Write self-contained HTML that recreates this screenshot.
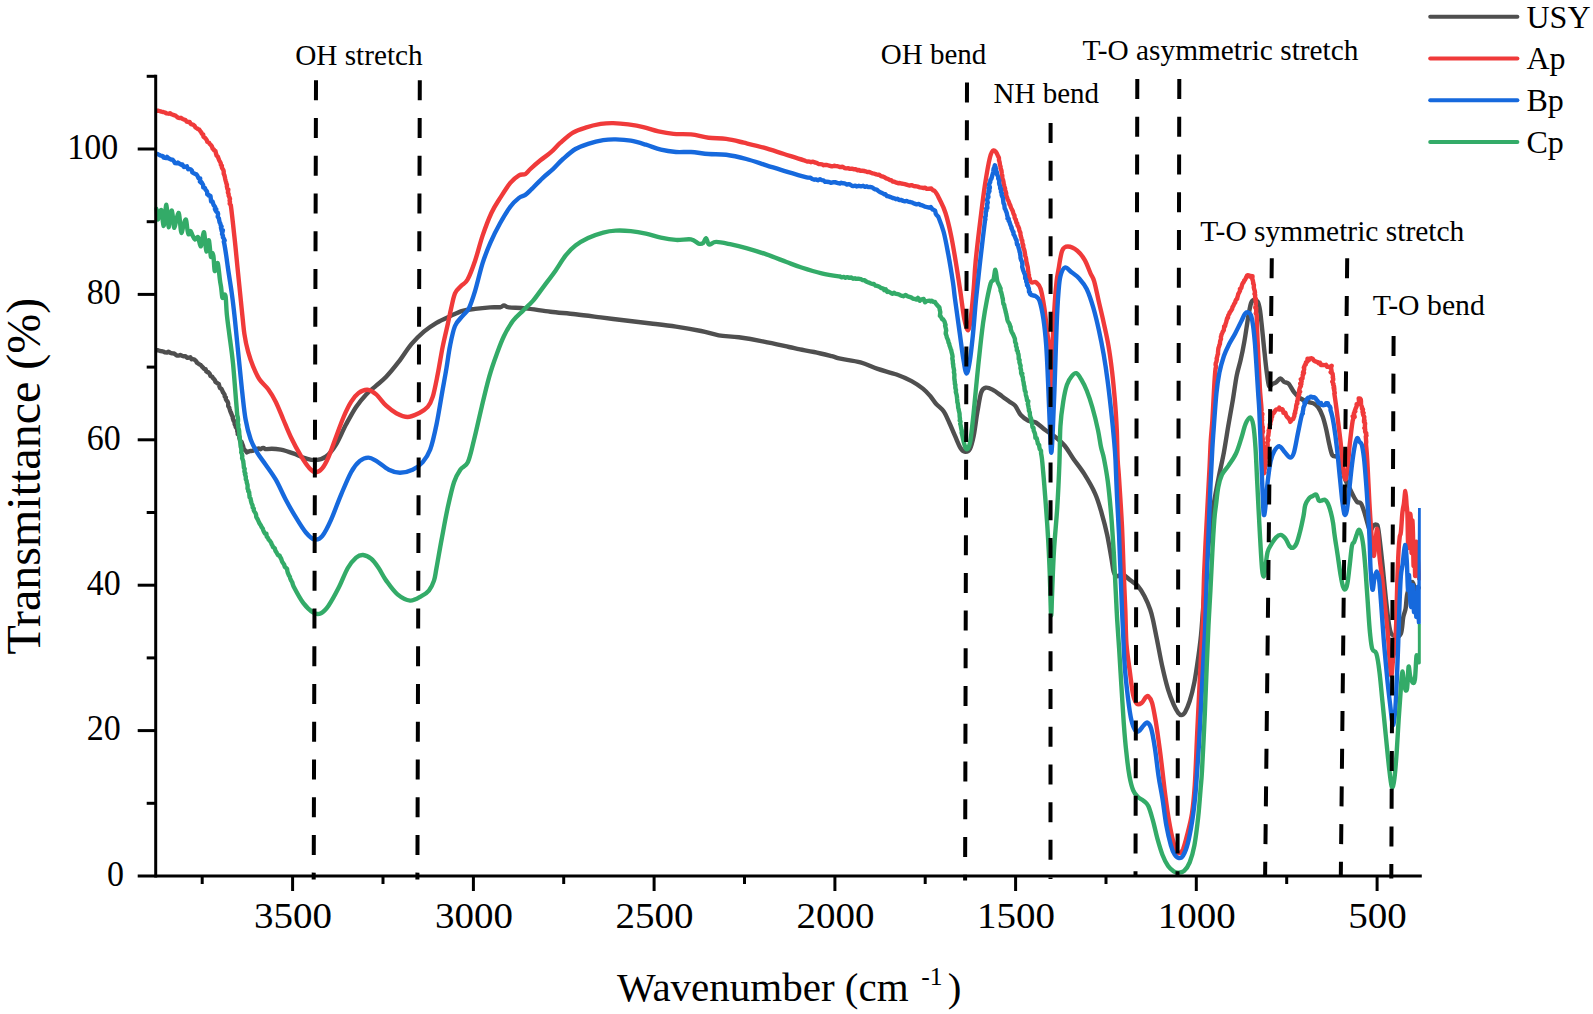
<!DOCTYPE html>
<html lang="en"><head><meta charset="utf-8"><title>FTIR spectra</title>
<style>
html,body{margin:0;padding:0;background:#fff;}
svg{display:block;}
text{font-family:"Liberation Serif",serif;fill:#000;}
</style></head><body>
<svg width="1593" height="1014" viewBox="0 0 1593 1014">
<rect width="1593" height="1014" fill="#fff"/>
<defs><clipPath id="plotclip"><rect x="154.5" y="60" width="1266.3" height="830"/></clipPath></defs>
<g fill="none" stroke="#4F4F4F" stroke-width="4.4" stroke-linejoin="round" stroke-linecap="butt" clip-path="url(#plotclip)"><path d="M155.7,349.9 L156.5,350.3 L157.6,350.2 L158.7,350.5 L160.6,351.1 L162.2,351.3 L163.6,351.6 L164.8,352.3 L167.1,352.5 L168.4,351.8 L170.3,352.8 L172.3,353.4 L173.9,353.5 L175.4,354.4 L176.8,355.5 L178.9,355.6 L180.3,355.0 L182.1,355.8 L184.0,356.3 L185.4,356.2 L187.0,357.7 L188.5,357.7 L190.3,357.3 L191.6,359.3 L192.4,359.0 L194.5,359.7 L196.1,361.1 L196.9,362.6 L198.6,363.8 L199.9,364.6 L200.7,365.0 L201.9,366.5 L202.9,367.4 L203.9,368.8 L205.6,369.1 L206.0,371.2 L207.8,372.4 L208.1,372.0 L209.8,374.0 L210.5,376.0 L212.2,376.8 L213.1,378.2 L214.3,379.4 L215.0,380.5 L215.4,382.0 L217.0,382.7 L217.2,383.3 L218.8,384.0 L219.5,386.7 L220.1,388.3 L221.5,388.8 L222.3,390.6 L223.0,392.4 L223.5,392.9 L224.6,394.6 L224.7,396.5 L225.9,397.4 L225.8,399.1 L226.7,400.6 L227.7,401.9 L228.2,403.4 L228.2,406.0 L229.3,407.7 L229.6,409.0 L230.1,410.7 L230.6,412.0 L231.3,413.5 L231.9,415.3 L232.8,416.7 L232.7,417.9 L233.3,420.0 L233.8,421.2 L234.8,421.2 L234.6,424.0 L235.5,425.5 L235.7,427.1 L236.4,427.9 L237.4,429.7 L237.2,431.1 L237.8,432.8 L237.7,434.2 L239.2,435.5 L239.4,438.2 L240.1,440.0 L240.0,440.6 L240.8,442.5 L241.7,442.1 L242.2,443.9 L243.0,445.9 L243.8,449.0 L244.6,449.9 L245.9,451.0 L246.9,452.4 L248.4,451.6 L250.1,451.0 L251.1,451.0 L252.5,450.9 L254.1,450.3 L255.3,448.8 L257.3,448.9 L258.4,448.4 L260.6,449.2 L262.2,448.2 L263.5,447.9 L265.4,449.1 L266.8,449.1 C271.2,448.3 276.4,448.8 280.8,449.6 C285.2,450.5 289.1,451.9 293.3,453.4 C297.5,454.9 302.1,457.3 305.9,458.4 C309.7,459.5 312.6,460.4 316.0,460.1 C319.4,459.8 322.7,459.2 326.0,456.6 C329.3,454.0 332.7,450.0 336.0,444.6 C339.3,439.2 342.6,430.8 346.0,424.5 C349.4,418.2 352.7,411.9 356.1,406.9 C359.5,401.9 362.9,397.9 366.2,394.4 C369.5,390.8 372.9,388.5 376.2,385.6 C379.5,382.7 382.4,380.8 386.2,376.8 C390.0,372.8 394.6,367.1 398.8,361.7 C403.0,356.2 407.2,349.1 411.4,344.1 C415.6,339.1 419.7,335.2 423.9,331.6 C428.1,328.1 432.1,325.4 436.5,322.8 C440.9,320.2 445.6,318.2 450.0,316.2 C454.4,314.2 458.4,312.1 462.6,310.9 C466.8,309.7 470.5,309.5 475.1,308.9 C479.7,308.3 486.0,307.7 490.2,307.4 C494.4,307.1 497.9,307.5 500.2,307.2 C502.5,306.9 502.5,305.4 504.0,305.4 C505.5,305.4 505.4,306.9 509.0,307.4 C512.5,307.9 518.4,307.7 525.3,308.4 C532.2,309.1 542.0,310.7 550.4,311.7 C558.8,312.7 567.1,313.2 575.5,314.2 C583.9,315.1 592.3,316.3 600.7,317.4 C609.1,318.4 617.4,319.5 625.8,320.5 C634.2,321.5 642.5,322.5 650.9,323.5 C659.3,324.5 667.6,325.4 676.0,326.7 C684.4,327.9 694.0,329.6 701.1,331.0 C708.2,332.4 712.4,334.2 718.7,335.3 C725.0,336.4 731.3,336.2 738.8,337.3 C746.3,338.4 755.5,340.0 763.9,341.6 C772.3,343.2 783.0,345.7 789.0,347.0 C795.0,348.3 795.8,348.6 800.0,349.4 C804.2,350.2 808.8,350.9 814.1,352.0 C819.4,353.1 827.3,355.1 831.7,356.2 C836.1,357.3 835.6,357.7 840.4,358.7 C845.2,359.7 854.3,360.7 860.5,362.4 C866.7,364.1 871.7,366.9 877.7,368.9 C883.7,370.9 890.9,372.5 896.5,374.5 C902.1,376.5 907.2,378.8 911.6,381.1 C916.0,383.5 919.8,386.1 922.9,388.6 C926.0,391.1 928.2,393.7 930.4,396.2 C932.6,398.7 933.8,401.2 936.0,403.7 C938.2,406.2 941.4,408.1 943.6,411.2 C945.8,414.3 947.3,418.4 949.2,422.5 C951.1,426.6 953.0,431.4 954.9,435.7 C956.8,439.9 958.8,445.3 960.5,448.0 C962.2,450.7 963.6,451.6 965.2,451.7 C966.8,451.8 968.5,451.6 969.9,448.9 C971.3,446.2 972.4,442.0 973.7,435.7 C975.0,429.4 976.2,418.4 977.5,411.2 C978.8,404.0 979.8,396.3 981.2,392.4 C982.6,388.5 984.0,388.2 985.9,387.7 C987.8,387.2 989.8,388.2 992.5,389.6 C995.2,391.0 999.2,394.2 1002.0,396.2 C1004.8,398.2 1007.3,400.2 1009.5,401.8 C1011.7,403.4 1013.2,403.4 1015.1,405.6 C1017.0,407.8 1018.6,412.5 1020.8,415.0 C1023.0,417.5 1025.8,419.4 1028.3,420.7 C1030.8,421.9 1033.1,420.9 1035.9,422.5 C1038.7,424.1 1042.2,427.8 1045.3,430.1 C1048.4,432.4 1051.4,433.9 1054.7,436.5 C1058.0,439.1 1061.8,442.2 1064.9,446.0 C1068.0,449.8 1070.2,454.3 1073.5,459.0 C1076.8,463.7 1080.8,468.4 1084.4,474.2 C1088.0,480.0 1092.3,487.3 1095.2,493.8 C1098.1,500.3 1099.7,506.4 1101.7,513.3 C1103.7,520.2 1105.6,527.4 1107.2,535.0 C1108.8,542.6 1110.4,552.6 1111.5,558.8 C1112.6,564.9 1112.8,569.0 1113.7,571.9 C1114.6,574.8 1115.4,575.7 1116.9,576.2 C1118.4,576.7 1120.7,574.0 1122.9,574.7 C1125.2,575.4 1127.9,578.4 1130.4,580.3 C1132.9,582.2 1135.6,583.3 1137.9,586.0 C1140.2,588.7 1142.5,592.4 1144.5,596.3 C1146.5,600.2 1148.8,605.5 1150.2,609.5 C1151.6,613.5 1151.9,615.1 1153.0,620.0 C1154.1,624.9 1155.2,630.9 1156.8,638.8 C1158.4,646.6 1160.5,658.6 1162.4,667.1 C1164.3,675.6 1166.2,683.4 1168.1,689.7 C1170.0,696.0 1172.0,700.8 1173.7,704.7 C1175.4,708.6 1177.2,711.5 1178.4,713.2 C1179.7,714.9 1180.1,715.2 1181.2,715.1 C1182.3,715.0 1183.6,714.6 1185.0,712.3 C1186.4,709.9 1188.1,706.0 1189.7,701.0 C1191.3,696.0 1193.0,689.3 1194.4,682.1 C1195.8,674.9 1197.1,665.5 1198.2,657.7 C1199.3,649.9 1200.2,643.1 1201.0,635.1 C1201.8,627.1 1202.0,622.5 1203.0,610.0 C1204.0,597.5 1205.5,575.8 1207.0,560.0 C1208.5,544.2 1210.1,528.7 1212.0,515.0 C1213.9,501.3 1216.6,488.3 1218.6,477.9 C1220.6,467.4 1222.3,461.1 1223.9,452.3 C1225.5,443.5 1226.9,434.0 1228.4,425.2 C1229.9,416.4 1231.5,407.9 1232.9,399.6 C1234.3,391.3 1235.4,382.1 1236.7,375.6 C1238.0,369.1 1239.2,366.0 1240.5,360.5 C1241.8,355.0 1243.0,349.4 1244.2,342.4 C1245.5,335.4 1246.9,324.8 1248.0,318.3 C1249.1,311.8 1250.0,306.4 1251.0,303.3 C1252.0,300.2 1252.9,300.2 1254.0,300.0 C1255.1,299.8 1256.8,300.0 1257.8,301.8 C1258.8,303.6 1259.3,306.0 1260.1,310.8 C1260.8,315.6 1261.5,323.4 1262.3,330.4 C1263.0,337.4 1263.8,346.0 1264.6,353.0 C1265.3,360.0 1266.0,367.1 1266.8,372.6 C1267.5,378.1 1268.2,384.2 1269.1,386.1 C1270.0,388.0 1271.0,384.8 1272.1,384.2 C1273.2,383.6 1274.5,383.3 1275.9,382.4 C1277.3,381.4 1279.0,378.6 1280.4,378.5 C1281.8,378.4 1282.8,381.1 1284.2,382.0 C1285.6,382.9 1287.1,382.1 1288.7,383.8 C1290.3,385.5 1292.1,389.7 1294.0,392.1 C1295.9,394.5 1297.8,396.5 1300.0,398.1 C1302.2,399.7 1305.2,400.9 1307.5,401.8 C1309.8,402.7 1311.7,402.5 1313.5,403.4 C1315.3,404.3 1316.6,405.0 1318.1,407.1 C1319.6,409.2 1321.2,412.4 1322.6,416.2 C1324.0,420.0 1325.2,424.9 1326.3,429.7 C1327.4,434.5 1328.4,440.5 1329.4,444.8 C1330.4,449.1 1331.2,453.3 1332.4,455.3 C1333.7,457.3 1335.5,455.3 1336.9,456.8 C1338.3,458.3 1339.3,460.6 1340.7,464.4 C1342.1,468.2 1343.7,475.4 1345.2,479.4 C1346.7,483.4 1348.2,485.5 1349.7,488.5 C1351.2,491.5 1353.0,495.2 1354.2,497.5 C1355.5,499.8 1356.1,501.0 1357.2,502.0 C1358.3,503.0 1359.9,502.0 1361.0,503.5 C1362.1,505.0 1363.0,508.1 1364.0,511.1 C1365.0,514.1 1366.0,518.3 1367.0,521.6 C1368.0,524.9 1369.0,530.0 1370.0,530.7 C1371.0,531.5 1372.1,527.1 1373.1,526.1 C1374.1,525.1 1375.2,524.1 1376.1,524.6 C1377.0,525.1 1377.3,523.3 1378.3,529.2 C1379.3,535.1 1380.7,548.2 1382.0,560.0 C1383.3,571.8 1384.7,588.3 1386.0,600.0 C1387.3,611.7 1388.5,624.0 1390.0,630.0 C1391.5,636.0 1393.2,635.4 1395.0,636.0 C1396.8,636.6 1399.5,636.7 1400.9,633.5 C1402.3,630.3 1402.5,621.0 1403.3,616.9 C1404.1,612.8 1404.9,612.5 1405.6,608.6 C1406.3,604.7 1406.3,597.7 1407.4,593.3 C1408.5,588.9 1410.6,582.5 1412.0,582.0 C1413.4,581.5 1414.7,589.3 1416.0,590.0 C1417.3,590.7 1419.3,586.7 1420.0,586.0"/></g>
<g fill="none" stroke="#F03A3A" stroke-width="4.4" stroke-linejoin="round" stroke-linecap="butt" clip-path="url(#plotclip)"><path d="M155.7,110.2 L156.6,110.7 L157.9,110.6 L159.3,111.0 L161.4,111.7 L163.2,112.0 L164.9,112.5 L166.4,113.3 L168.7,113.7 L169.9,113.2 L171.6,114.3 L173.4,115.0 L175.0,115.3 L176.5,116.4 L177.8,117.6 L179.6,118.0 L180.9,117.8 L182.5,118.8 L184.1,119.7 L185.3,119.9 L186.7,121.6 L188.0,122.0 L189.6,122.0 L190.9,124.1 L191.7,124.3 L193.4,124.9 L194.8,126.2 L195.5,127.5 L197.1,128.5 L198.3,129.2 L199.2,129.6 L200.4,131.2 L201.1,132.1 L201.9,133.7 L203.2,134.4 L203.4,136.6 L204.9,138.0 L205.1,137.9 L206.7,140.0 L207.4,141.9 L209.0,142.7 L209.8,144.0 L211.2,145.3 L212.0,146.7 L212.6,148.6 L214.0,149.5 L214.1,150.3 L215.5,151.2 L216.1,153.9 L216.6,155.7 L217.8,156.5 L218.5,158.4 L219.2,160.3 L219.7,161.2 L220.7,163.0 L220.9,164.9 L221.9,165.7 L221.8,167.3 L222.5,168.7 L223.3,169.9 L223.7,171.3 L223.7,173.8 L224.5,175.5 L224.8,176.9 L225.2,178.9 L225.6,180.6 L226.0,181.9 L226.4,183.5 L227.0,184.8 L226.8,186.0 L227.2,188.0 L227.5,189.3 L228.3,189.5 L227.9,192.4 L228.6,194.0 L228.7,195.8 L229.2,196.9 L230.0,198.9 L229.6,200.4 L230.0,202.1 L229.7,203.7 L230.8,205.1 C232.1,214.8 233.1,224.5 234.3,235.8 C235.6,247.1 236.8,260.9 238.1,273.4 C239.4,285.9 240.8,300.9 241.9,311.0 C243.0,321.1 243.4,327.2 244.4,334.0 C245.4,340.8 246.6,346.2 248.1,351.7 C249.6,357.1 251.3,362.1 253.2,366.7 C255.1,371.3 256.9,375.5 259.4,379.3 C261.9,383.1 265.5,385.5 268.2,389.3 C270.9,393.1 273.3,396.9 275.8,401.9 C278.3,406.9 280.8,413.6 283.3,419.5 C285.8,425.4 287.9,430.9 290.8,437.0 C293.7,443.1 297.8,450.7 300.9,455.9 C304.0,461.1 307.2,465.7 309.7,468.4 C312.2,471.1 313.9,472.2 316.0,472.2 C318.1,472.2 320.1,470.9 322.2,468.4 C324.3,465.9 326.2,462.3 328.5,457.1 C330.8,451.9 333.5,443.7 336.0,437.0 C338.5,430.3 341.1,422.9 343.6,417.0 C346.1,411.1 348.6,405.9 351.1,401.9 C353.6,397.9 355.9,395.1 358.6,393.1 C361.3,391.1 364.5,389.6 367.4,389.8 C370.3,390.0 373.1,391.8 376.2,394.4 C379.3,397.0 382.8,402.6 386.2,405.7 C389.6,408.8 392.7,411.3 396.3,413.2 C399.9,415.1 403.8,417.0 407.6,417.0 C411.4,417.0 415.5,414.9 418.9,413.2 C422.2,411.5 425.4,409.6 427.7,406.9 C430.0,404.2 431.0,402.3 432.7,396.9 C434.4,391.5 436.0,382.7 437.7,374.3 C439.4,365.9 441.0,355.0 442.7,346.6 C444.4,338.2 446.4,330.3 447.8,324.0 C449.2,317.7 449.8,314.1 451.0,309.0 C452.2,303.9 453.3,297.2 455.0,293.3 C456.7,289.4 459.2,288.1 461.3,285.8 C463.4,283.5 465.3,283.7 467.6,279.5 C469.9,275.3 472.6,268.0 475.1,260.7 C477.6,253.4 479.9,243.5 482.6,235.6 C485.3,227.7 488.5,219.3 491.4,213.0 C494.3,206.7 497.0,202.9 500.2,197.9 C503.4,192.9 507.2,186.7 510.3,182.9 C513.4,179.1 516.5,176.8 519.0,175.3 C521.5,173.8 523.4,175.2 525.3,174.1 C527.2,173.0 527.9,171.3 530.4,169.0 C532.9,166.7 537.1,163.0 540.4,160.3 C543.7,157.6 547.0,155.6 550.4,152.7 C553.8,149.8 556.7,146.0 560.5,142.7 C564.3,139.3 568.8,135.1 573.0,132.6 C577.2,130.1 581.0,129.0 585.6,127.6 C590.2,126.1 596.1,124.7 600.7,123.9 C605.3,123.2 608.6,123.0 613.2,123.1 C617.8,123.2 623.3,123.7 628.3,124.4 C633.3,125.1 638.3,125.9 643.3,127.1 C648.3,128.3 653.4,130.3 658.4,131.4 C663.4,132.5 668.1,133.4 673.5,133.9 C678.9,134.4 685.1,133.8 691.0,134.4 C696.9,135.0 702.7,136.9 708.6,137.7 C714.5,138.4 720.3,138.1 726.2,138.9 C732.1,139.7 737.5,141.2 743.8,142.7 C750.1,144.2 757.2,145.8 763.9,147.7 C770.6,149.6 777.3,151.9 784.0,154.0 C790.7,156.1 796.9,158.4 804.0,160.3 L805.7,161.0 L807.6,161.6 L809.0,161.5 L811.0,162.2 L813.1,161.7 L814.9,162.5 L816.7,162.8 L818.5,164.0 L820.2,164.1 L822.1,164.4 L823.6,165.2 L825.3,164.9 L827.0,165.0 L829.1,165.6 L831.0,166.2 L832.7,166.3 L834.1,165.8 L836.1,166.1 L837.7,166.2 L840.2,167.1 L841.7,166.8 L843.1,167.0 L844.8,168.1 L846.3,168.4 L848.3,168.1 L849.6,168.9 L851.7,168.6 L853.6,169.2 L855.5,169.1 L857.2,170.2 L859.0,170.0 L860.4,170.7 L862.3,170.8 L864.2,171.0 L865.4,171.3 L867.2,172.0 L869.3,172.0 L871.0,172.8 L872.7,173.4 L874.4,173.7 L876.3,174.4 L877.6,174.7 L879.2,174.7 L880.9,176.1 L882.7,176.5 L884.6,177.3 L886.2,178.3 L888.2,179.0 L889.7,180.1 L891.2,180.2 L892.8,181.6 L894.4,181.7 L896.5,182.7 L898.0,183.2 L899.8,183.0 L901.3,183.5 L903.4,183.9 L904.8,184.2 L906.4,184.7 L908.1,185.2 L909.6,185.5 L911.5,185.1 L913.7,186.0 L915.3,186.2 L917.7,186.7 L919.8,187.4 L921.7,187.7 L923.6,188.1 L925.2,187.6 L926.7,188.9 L929.0,188.7 L931.3,188.5 L932.7,190.1 L934.1,190.6 C936.4,192.3 937.9,196.0 939.8,199.8 C941.7,203.6 943.6,207.0 945.5,213.0 C947.4,219.0 949.4,227.4 951.1,235.6 C952.8,243.8 954.2,252.5 955.8,262.0 C957.4,271.5 959.1,283.1 960.5,292.6 C961.9,302.1 963.0,312.7 964.3,319.0 C965.6,325.3 967.0,330.6 968.1,330.3 C969.2,330.0 970.0,324.0 970.9,317.1 C971.8,310.2 972.9,298.0 973.7,288.8 C974.5,279.6 974.5,273.4 975.6,262.0 C976.7,250.6 978.7,233.4 980.3,220.5 C981.9,207.6 983.4,195.0 985.0,184.7 C986.6,174.3 988.3,164.1 989.7,158.4 C991.1,152.7 992.1,150.8 993.5,150.5 C994.9,150.2 996.8,152.4 998.2,156.5 L998.9,157.6 L999.0,159.2 L999.0,160.2 L999.6,162.1 L999.8,163.3 L999.9,164.8 L1000.6,166.7 L1000.5,168.1 L1001.5,170.6 L1001.5,170.9 L1001.8,173.8 L1002.3,175.5 L1002.3,177.0 L1002.3,178.8 L1003.0,179.7 L1003.6,182.4 L1003.4,183.0 L1004.1,185.0 L1004.3,186.2 L1005.1,188.6 L1004.8,189.3 L1005.8,191.8 L1006.2,193.3 L1006.1,194.6 L1006.3,195.7 L1007.2,197.9 L1007.6,199.2 L1008.5,201.0 L1009.1,202.5 L1009.5,204.2 L1010.2,205.0 L1010.7,206.8 L1011.4,208.4 L1012.1,209.9 L1012.7,210.9 L1013.4,213.4 L1013.9,214.4 L1014.5,215.6 L1014.6,217.5 L1015.3,219.2 L1015.8,219.4 L1016.4,222.6 L1017.1,222.9 L1017.5,225.3 L1018.3,226.7 L1019.1,228.6 L1019.3,230.3 L1020.1,232.2 L1020.4,232.7 L1020.5,234.9 L1020.9,236.5 L1021.4,237.9 L1021.6,240.1 L1022.3,240.5 L1022.4,243.2 L1022.7,244.1 L1023.3,245.3 L1023.2,247.0 L1023.9,248.9 L1024.3,250.1 L1024.7,251.9 L1024.9,253.2 L1025.1,255.0 L1025.3,256.0 L1025.8,257.4 L1026.1,258.9 L1026.4,261.7 L1026.9,263.3 L1027.1,264.6 L1027.8,267.2 L1027.9,268.5 L1028.0,269.9 L1028.5,272.8 L1028.2,274.0 L1029.0,274.9 L1028.8,276.6 L1029.4,277.7 L1029.9,279.5 L1030.3,280.7 C1031.9,284.7 1034.2,280.8 1035.9,282.2 C1037.6,283.6 1039.2,284.6 1040.6,288.8 C1042.0,293.1 1043.2,300.5 1044.3,307.7 C1045.4,314.9 1046.3,324.9 1047.2,332.1 C1048.1,339.3 1048.9,341.4 1049.4,351.0 C1049.9,360.6 1050.0,379.2 1050.3,390.0 C1050.6,400.8 1050.8,416.0 1051.0,416.0 C1051.2,416.0 1051.5,402.7 1051.8,390.0 C1052.1,377.3 1052.3,354.4 1052.8,340.0 C1053.3,325.6 1054.1,313.7 1054.7,303.9 C1055.3,294.1 1056.0,287.0 1056.6,281.3 C1057.2,275.6 1057.6,274.6 1058.5,269.5 C1059.4,264.4 1060.6,254.5 1062.2,250.7 C1063.8,246.9 1065.4,246.5 1067.9,246.5 C1070.4,246.5 1074.5,248.4 1077.3,250.7 C1080.1,253.0 1082.6,256.3 1084.8,260.1 C1087.0,263.9 1088.9,269.8 1090.5,273.3 C1092.1,276.8 1092.8,276.5 1094.2,281.3 C1095.6,286.1 1097.3,295.1 1098.9,302.0 C1100.5,308.9 1102.1,315.5 1103.7,322.7 C1105.3,329.9 1107.0,337.1 1108.4,345.3 C1109.8,353.5 1111.0,362.3 1112.1,371.7 C1113.2,381.1 1114.2,392.1 1115.0,401.8 C1115.8,411.5 1116.3,420.4 1116.8,430.1 C1117.2,439.8 1117.3,452.1 1117.7,460.0 C1118.1,467.9 1118.3,466.9 1119.0,477.7 C1119.7,488.5 1121.1,509.0 1121.9,524.7 C1122.7,540.4 1123.1,557.7 1123.7,571.8 C1124.3,585.9 1124.8,597.4 1125.3,609.5 C1125.8,621.6 1125.7,634.0 1126.5,644.5 C1127.3,655.0 1128.9,664.2 1130.0,672.7 C1131.1,681.2 1132.0,690.1 1133.2,695.3 C1134.4,700.5 1135.6,702.5 1137.0,703.8 C1138.4,705.1 1140.3,703.9 1141.7,702.9 C1143.1,701.9 1144.4,698.7 1145.5,697.6 C1146.6,696.5 1147.2,695.4 1148.3,696.3 C1149.4,697.2 1150.8,698.7 1152.1,702.9 C1153.3,707.1 1154.5,714.2 1155.8,721.7 C1157.0,729.2 1158.5,739.9 1159.6,748.1 C1160.7,756.3 1161.5,763.0 1162.4,770.7 C1163.3,778.4 1164.1,786.1 1165.2,794.5 C1166.3,802.9 1167.7,813.3 1169.0,820.8 C1170.3,828.3 1171.5,834.7 1172.8,839.7 C1174.0,844.7 1175.4,848.8 1176.5,851.0 C1177.6,853.2 1178.3,853.5 1179.4,853.2 C1180.5,852.9 1181.8,852.0 1183.1,849.1 C1184.3,846.2 1185.4,841.9 1186.9,835.9 C1188.4,829.9 1190.7,821.8 1192.0,813.3 C1193.3,804.8 1193.9,798.4 1194.8,785.0 C1195.7,771.6 1196.4,749.5 1197.2,733.0 C1198.0,716.5 1198.8,700.0 1199.5,685.9 C1200.2,671.8 1200.8,659.2 1201.4,648.2 C1202.0,637.2 1202.4,632.7 1202.9,620.0 C1203.4,607.3 1203.5,589.2 1204.2,571.8 C1204.9,554.3 1206.1,532.6 1207.0,515.3 C1207.9,498.0 1208.9,480.8 1209.5,468.2 C1210.1,455.6 1210.3,448.0 1210.8,440.0 C1211.3,432.0 1211.9,428.0 1212.4,420.0 C1212.9,412.0 1213.4,400.6 1213.9,392.0 C1214.4,383.4 1214.7,375.9 1215.6,368.1 L1216.2,367.2 L1215.6,364.7 L1215.9,362.7 L1216.4,361.8 L1216.9,359.2 L1216.6,358.6 L1217.2,356.8 L1217.5,355.0 L1218.0,354.2 L1218.0,352.0 L1218.3,349.3 L1218.3,349.5 L1218.4,348.2 L1219.2,346.0 L1219.3,345.3 L1219.9,344.1 L1220.1,341.5 L1220.4,340.4 L1221.0,339.1 L1220.9,336.7 L1221.4,335.6 L1221.5,334.6 L1222.1,333.4 L1222.8,331.6 L1223.8,330.2 L1223.9,329.1 L1224.3,326.2 L1224.2,326.3 L1225.1,326.1 L1225.5,324.0 L1226.1,322.4 L1226.6,320.4 L1227.1,318.4 L1227.8,317.2 L1228.0,317.8 L1228.3,315.3 L1229.4,313.8 L1229.5,312.6 L1230.5,311.6 L1230.8,311.0 L1232.2,308.8 L1232.4,307.3 L1233.4,305.8 L1233.9,304.5 L1234.1,304.0 L1235.3,302.2 L1235.3,301.4 L1236.1,299.7 L1237.2,298.8 L1237.2,298.0 L1237.9,295.7 L1238.3,293.8 L1238.6,293.6 L1240.1,290.5 L1239.9,288.8 L1241.3,288.0 L1241.6,286.6 L1242.1,284.7 L1242.8,283.0 L1243.3,282.7 L1244.1,281.2 L1244.2,280.3 L1244.9,280.1 L1246.3,277.3 L1246.9,275.7 L1247.6,275.1 L1248.9,275.3 L1249.9,276.5 L1250.5,276.0 L1252.5,276.2 L1252.3,279.3 L1252.9,280.5 L1253.0,281.6 L1253.4,283.1 L1253.1,283.5 L1253.9,284.9 L1253.8,287.6 L1254.2,289.3 L1254.8,290.9 L1255.0,292.6 L1254.5,293.9 L1255.2,294.9 L1255.1,297.0 L1255.0,298.3 L1255.9,298.9 L1255.5,300.6 L1256.0,302.4 L1255.9,303.3 L1255.7,305.3 L1255.3,307.7 L1256.2,307.4 L1256.2,310.1 L1256.2,312.1 L1255.8,313.4 L1256.7,315.0 C1256.8,324.1 1257.3,335.4 1257.8,345.5 C1258.3,355.6 1258.9,367.9 1259.3,375.6 C1259.7,383.4 1259.7,386.2 1260.1,392.0 C1260.5,397.8 1261.1,402.1 1261.6,410.1 L1261.3,410.3 L1261.3,412.6 L1262.4,413.9 L1261.9,416.4 L1261.7,415.6 L1262.1,417.8 L1261.7,417.9 L1262.2,420.3 L1261.7,421.4 L1262.0,423.3 L1262.2,424.3 L1262.2,426.5 L1262.8,427.0 L1262.7,428.2 L1262.5,430.7 L1263.0,431.4 L1262.5,433.2 L1262.1,434.6 L1262.4,436.3 L1262.3,436.1 L1262.8,439.1 L1262.6,440.9 L1262.8,441.3 L1263.1,442.0 L1262.7,444.6 L1263.3,446.1 L1263.1,447.3 L1263.2,450.6 L1262.9,452.7 L1262.9,452.7 L1263.2,455.1 L1262.8,454.6 L1263.5,458.2 L1263.5,461.1 L1263.4,461.0 L1263.7,462.6 L1264.0,462.9 L1263.3,462.7 L1263.8,466.1 L1263.9,469.1 L1263.6,468.5 L1263.5,469.1 L1263.5,471.0 L1263.8,471.3 L1263.7,472.5 L1264.2,473.1 L1264.6,472.4 L1264.2,471.5 L1265.1,466.9 L1265.7,464.6 L1264.9,464.5 L1265.6,462.9 L1265.7,461.0 L1265.2,460.5 L1265.9,458.2 L1266.1,457.0 L1266.4,455.2 L1266.3,452.4 L1266.3,452.8 L1267.0,450.5 L1266.7,450.3 L1266.7,448.1 L1267.6,446.0 L1267.6,444.0 L1267.4,443.0 L1267.5,442.4 L1268.4,439.8 L1267.6,439.1 L1267.6,437.5 L1268.4,435.4 L1268.6,433.0 L1268.9,431.4 L1268.6,430.6 L1268.9,430.1 L1269.3,427.8 L1269.6,427.8 L1269.7,425.6 L1270.3,424.3 L1269.7,424.6 L1271.1,420.4 L1270.6,421.0 L1271.4,419.4 L1271.5,416.7 L1272.1,416.9 L1272.3,414.4 L1273.2,412.8 L1273.7,413.0 L1274.6,411.9 L1275.0,410.8 L1276.4,409.4 L1277.4,409.3 L1278.9,409.3 L1279.3,407.6 L1279.6,409.6 L1281.1,409.1 L1282.4,409.2 L1283.3,411.4 L1283.4,412.9 L1285.3,412.6 L1286.1,415.3 L1286.9,416.8 L1288.1,417.8 L1288.9,419.0 L1289.7,419.6 L1290.2,421.9 L1291.4,420.5 L1291.8,419.4 L1293.2,419.1 L1294.1,416.6 L1294.3,416.2 L1294.5,413.8 L1295.2,413.0 L1295.1,411.2 L1295.5,410.7 L1296.0,407.9 L1296.3,407.4 L1296.1,406.3 L1296.7,403.9 L1297.4,403.5 L1297.1,401.4 L1297.4,401.2 L1297.8,399.2 L1298.0,397.6 L1299.3,393.9 L1298.6,394.7 L1299.1,392.5 L1300.1,391.6 L1299.1,390.8 L1299.3,389.6 L1300.0,387.5 L1300.9,386.1 L1300.2,383.6 L1301.4,384.0 L1301.0,382.8 L1301.7,381.5 L1300.8,379.2 L1302.5,378.7 L1302.8,374.4 L1302.7,375.6 L1304.0,372.9 L1303.0,372.4 L1303.8,370.7 L1304.2,369.2 L1304.0,368.2 L1304.3,367.0 L1303.8,367.6 L1305.2,364.5 L1305.8,364.4 L1305.9,362.3 L1307.3,361.8 L1307.5,358.6 L1308.9,360.1 L1309.5,358.7 L1310.8,358.4 L1311.5,358.3 L1312.8,358.8 L1313.7,360.4 L1314.8,361.1 L1316.1,361.6 L1318.4,362.4 L1318.5,363.4 L1320.0,362.8 L1320.8,365.1 L1322.5,365.0 L1324.6,365.1 L1326.0,364.8 L1326.4,365.4 L1327.1,366.8 L1327.8,366.5 L1328.9,367.0 L1329.7,366.6 L1330.7,367.1 L1331.7,365.8 L1331.0,367.6 L1331.9,372.9 L1330.6,372.2 L1332.3,373.5 L1332.6,373.6 L1333.0,377.0 L1332.7,377.3 L1333.2,378.7 L1333.2,379.9 L1332.2,381.7 L1333.5,383.8 L1333.1,384.6 L1334.0,386.2 L1334.4,389.4 L1333.6,387.5 L1334.6,392.2 L1334.8,393.1 L1334.3,393.4 C1335.5,401.0 1336.6,409.5 1337.6,417.7 C1338.6,425.9 1339.8,435.0 1340.7,443.3 C1341.6,451.6 1342.2,461.4 1342.9,467.4 C1343.7,473.4 1344.5,478.9 1345.2,479.4 C1346.0,479.9 1346.7,476.2 1347.4,470.4 C1348.2,464.6 1348.8,453.1 1349.7,444.8 C1350.6,436.5 1351.7,426.7 1352.7,420.7 L1353.4,418.1 L1352.7,416.2 L1354.7,417.0 L1353.8,413.5 L1354.5,412.1 L1355.3,411.5 L1354.6,411.5 L1355.2,409.7 L1355.7,408.3 L1356.7,406.3 L1356.6,404.3 L1357.5,404.3 L1358.4,403.5 L1359.0,401.7 L1358.8,399.3 L1358.7,398.4 L1360.1,398.5 L1360.1,398.4 L1360.8,399.4 L1361.0,401.2 L1361.0,403.2 L1361.0,403.6 L1361.2,404.9 L1362.4,408.5 L1362.0,408.7 L1362.7,410.0 L1363.0,409.4 L1362.5,412.0 L1363.6,412.9 L1362.9,413.9 L1363.2,415.0 L1364.3,416.8 L1364.0,420.9 L1364.6,420.6 L1364.0,421.8 L1365.1,423.2 L1365.1,424.1 L1364.9,425.2 L1365.0,427.7 L1364.4,428.1 L1365.2,429.1 L1365.1,431.7 L1366.2,433.1 L1365.7,432.8 L1366.5,435.7 L1365.8,436.3 L1365.9,437.8 L1366.1,440.6 L1366.2,442.0 L1366.0,444.4 C1366.9,451.8 1367.3,460.9 1367.8,470.4 C1368.3,479.9 1368.8,491.5 1369.3,500.5 C1369.8,509.5 1370.1,515.4 1370.8,524.6 C1371.5,533.9 1372.6,555.3 1373.7,556.0 C1374.8,556.7 1376.2,528.5 1377.2,528.8 C1378.2,529.1 1378.7,549.0 1379.6,557.8 C1380.5,566.6 1381.5,572.5 1382.5,581.4 C1383.5,590.3 1384.6,602.1 1385.5,611.0 C1386.4,619.9 1387.2,626.5 1387.9,634.7 C1388.6,642.9 1389.0,653.1 1389.6,660.0 C1390.2,666.9 1390.7,676.0 1391.3,676.0 C1391.9,676.0 1392.4,665.2 1393.0,660.0 C1393.6,654.8 1394.5,651.2 1395.0,645.0 C1395.5,638.8 1395.8,633.4 1396.2,622.8 C1396.6,612.2 1396.9,593.2 1397.3,581.4 C1397.7,569.6 1398.1,559.2 1398.5,551.8 C1398.9,544.4 1399.3,540.3 1399.7,537.0 C1400.1,533.7 1400.5,536.1 1400.9,532.0 C1401.4,527.9 1401.9,517.4 1402.4,512.6 C1402.9,507.9 1403.4,507.1 1403.9,503.5 C1404.4,499.9 1405.0,490.8 1405.4,491.0 C1405.9,491.2 1406.3,501.2 1406.6,505.0 C1406.9,508.8 1407.1,506.8 1407.4,514.0 C1407.7,521.2 1407.9,547.2 1408.2,548.0 C1408.5,548.8 1408.7,523.8 1409.1,518.6 C1409.5,513.4 1410.3,511.3 1410.7,517.0 C1411.1,522.7 1411.2,552.3 1411.5,553.0 C1411.8,553.7 1412.0,524.2 1412.2,521.0 C1412.5,517.8 1412.8,526.5 1413.0,534.0 C1413.2,541.5 1413.3,564.2 1413.6,566.0 C1413.8,567.8 1414.2,543.3 1414.5,545.0 C1414.8,546.7 1414.9,576.5 1415.2,576.0 C1415.5,575.5 1416.0,542.3 1416.3,541.8 C1416.6,541.3 1416.7,570.0 1417.0,573.0 C1417.3,576.0 1417.7,559.2 1418.0,560.0 C1418.3,560.8 1418.7,575.5 1419.0,578.0 C1419.3,580.5 1419.8,575.5 1420.0,575.0"/></g>
<g fill="none" stroke="#1669DD" stroke-width="4.4" stroke-linejoin="round" stroke-linecap="butt" clip-path="url(#plotclip)"><path d="M155.7,153.4 L156.4,154.1 L157.4,153.9 L158.3,154.4 L160.4,155.5 L161.8,155.9 L163.0,156.4 L163.7,157.6 L166.2,158.0 L167.0,156.9 L168.9,158.6 L171.0,159.6 L172.6,159.8 L174.0,161.4 L175.0,163.1 L177.0,163.4 L177.9,162.5 L179.5,163.7 L181.4,164.7 L182.4,164.5 L183.8,167.0 L185.1,166.9 L186.9,166.3 L188.1,169.3 L188.6,168.8 L190.6,169.3 L192.0,170.8 L192.3,172.4 L194.4,173.6 L195.8,174.2 L196.2,174.1 L197.4,175.8 L197.8,176.5 L198.5,178.3 L200.2,178.4 L199.9,181.6 L201.8,183.2 L201.4,182.1 L203.1,184.9 L203.3,187.5 L205.0,188.1 L205.5,189.6 L206.8,191.1 L207.2,192.4 L207.2,194.3 L209.0,195.1 L208.6,195.6 L210.5,196.0 L210.9,199.7 L211.1,201.5 L212.6,201.5 L213.1,203.5 L213.7,205.3 L213.9,205.3 L215.1,207.0 L214.9,209.0 L216.3,209.2 L215.7,210.8 L216.6,212.0 L217.7,212.7 L218.1,213.9 L217.7,216.8 L218.9,218.4 L219.0,219.3 L219.4,221.2 L219.6,222.3 L220.3,223.4 L220.7,225.3 L221.6,226.6 L220.9,227.5 L221.5,230.0 L221.7,231.1 L222.9,230.3 L222.0,234.0 L222.9,235.6 L222.9,237.5 L223.5,238.1 L224.7,240.4 L223.8,241.6 L224.2,243.2 C225.8,251.2 226.8,260.0 228.0,268.4 C229.2,276.8 230.8,285.9 231.8,293.5 C232.9,301.1 233.2,304.3 234.3,314.0 C235.4,323.7 236.8,339.1 238.1,351.7 C239.4,364.2 240.7,378.0 241.9,389.3 C243.2,400.6 244.1,411.1 245.6,419.5 C247.1,427.9 248.8,434.1 250.7,439.5 C252.6,444.9 254.4,447.9 256.9,452.1 C259.4,456.3 262.5,460.1 265.7,464.7 C268.9,469.3 272.4,473.8 275.8,479.7 C279.2,485.6 282.5,493.5 285.8,499.8 C289.1,506.1 292.5,511.9 295.9,517.4 C299.2,522.9 302.8,528.8 305.9,532.5 C309.0,536.2 312.0,538.9 314.7,539.5 C317.4,540.1 319.5,539.5 322.2,536.2 C324.9,532.9 327.9,526.8 331.0,519.9 C334.1,513.0 337.6,502.8 341.0,494.8 C344.4,486.9 348.0,477.9 351.1,472.2 C354.2,466.5 357.0,463.3 359.9,460.9 C362.8,458.5 365.5,457.6 368.2,457.6 C370.9,457.6 372.8,458.9 376.2,460.9 C379.6,462.9 384.8,467.7 388.8,469.7 C392.8,471.7 396.0,472.7 400.0,472.7 C404.0,472.7 408.8,471.5 412.6,469.7 C416.4,467.9 419.8,465.5 422.7,462.1 C425.6,458.8 427.9,455.9 430.2,449.6 C432.5,443.3 434.4,434.6 436.5,424.5 C438.6,414.4 441.0,398.7 442.7,389.3 C444.4,379.9 445.3,375.2 446.5,368.0 C447.7,360.8 448.6,353.0 450.0,346.0 C451.4,339.0 452.9,331.0 455.0,326.0 C457.1,321.0 460.3,318.8 462.6,315.9 C464.9,313.0 466.7,312.6 468.8,308.4 C470.9,304.2 472.8,298.3 475.1,290.8 C477.4,283.3 480.1,271.1 482.6,263.2 C485.1,255.2 487.3,249.8 490.2,243.1 C493.1,236.4 496.8,229.1 500.2,223.0 C503.6,216.9 507.2,210.9 510.3,206.7 C513.4,202.5 516.5,199.9 519.0,197.9 C521.5,195.9 523.2,196.4 525.3,194.9 C527.4,193.4 528.7,191.9 531.6,189.1 C534.5,186.2 539.3,181.1 542.9,177.8 C546.5,174.5 549.6,172.2 553.0,169.1 C556.4,166.0 559.2,162.3 563.0,159.0 C566.8,155.7 571.3,151.5 575.5,149.0 C579.7,146.5 583.5,145.4 588.1,143.9 C592.7,142.4 598.6,140.9 603.2,140.2 C607.8,139.4 611.1,139.3 615.7,139.4 C620.3,139.5 625.8,139.8 630.8,140.7 C635.8,141.6 640.9,143.2 645.9,144.7 C650.9,146.2 655.9,148.5 660.9,149.7 C665.9,150.9 671.0,151.6 676.0,152.0 C681.0,152.4 685.6,151.7 691.0,152.0 C696.4,152.3 702.7,153.6 708.6,154.0 C714.5,154.4 719.9,153.9 726.2,154.7 C732.5,155.5 739.6,157.2 746.3,159.0 C753.0,160.8 759.7,163.2 766.4,165.3 C773.1,167.4 779.8,169.6 786.5,171.6 C793.2,173.6 799.9,175.6 806.6,177.3 L807.9,177.6 L810.5,177.7 L812.2,179.0 L814.3,179.7 L815.7,179.4 L817.9,180.2 L820.0,179.2 L821.8,180.1 L823.5,180.4 L825.1,181.8 L826.6,181.7 L829.0,182.0 L830.8,182.8 L832.9,182.3 L835.0,182.1 L836.4,182.6 L838.1,183.2 L840.0,183.5 L841.3,182.8 L843.4,183.3 L844.7,183.4 L846.9,184.6 L848.6,184.2 L850.0,184.5 L851.9,185.8 L853.2,186.1 L855.3,185.6 L856.6,186.5 L858.9,185.8 L861.0,186.3 L863.1,185.8 L865.0,186.9 L866.9,186.3 L868.3,187.1 L870.1,187.0 L872.2,187.4 L873.1,188.1 L874.8,189.3 L876.8,189.6 L878.3,191.0 L879.8,192.0 L881.4,192.7 L883.2,193.7 L884.3,194.3 L885.5,194.3 L886.9,196.0 L888.7,196.4 L890.6,197.1 L892.6,198.0 L894.5,198.4 L895.9,199.2 L897.4,198.8 L899.1,200.1 L900.8,199.9 L903.2,200.9 L904.8,201.3 L906.7,200.9 L908.1,201.6 L910.3,202.0 L911.4,202.3 L913.2,203.1 L915.2,203.8 L916.7,204.3 L918.7,203.9 L920.6,205.0 L921.5,205.2 L923.4,205.8 L924.9,206.7 L927.2,207.1 L929.2,207.7 L930.8,207.1 L932.5,209.4 L933.5,209.8 L935.1,210.6 L935.8,213.8 L936.6,215.0 L938.3,216.8 C939.8,220.6 941.9,225.5 943.6,231.8 C945.3,238.1 946.7,245.9 948.3,254.4 C949.9,262.9 951.9,275.4 953.0,282.7 C954.1,290.0 953.8,290.0 954.9,298.2 C956.0,306.4 958.2,322.1 959.6,332.1 C961.0,342.2 962.1,351.6 963.3,358.5 C964.4,365.4 965.4,373.3 966.5,373.6 C967.6,373.9 968.9,366.7 969.9,360.4 C970.9,354.1 971.8,345.3 972.8,335.9 C973.8,326.5 974.7,313.6 975.6,303.9 C976.5,294.2 977.6,284.8 978.4,277.5 C979.2,270.2 979.2,269.6 980.3,260.1 C981.4,250.6 983.4,233.1 985.0,220.5 L985.4,219.5 L985.1,217.2 L985.7,216.2 L985.8,213.9 L985.7,212.1 L986.5,210.7 L986.2,208.5 L987.4,208.0 L987.0,204.1 L987.2,204.3 L987.8,202.6 L987.4,201.0 L987.1,199.7 L988.0,197.1 L988.5,197.1 L987.9,194.1 L988.6,193.2 L988.5,191.1 L989.5,191.0 L988.7,188.3 L989.7,188.5 L989.9,187.2 L989.3,185.8 L989.1,184.3 L990.2,182.3 L990.4,180.0 L991.2,179.1 L991.6,178.1 L991.7,177.7 L992.2,175.9 L992.3,175.3 L992.9,173.6 L993.3,171.6 L993.6,168.7 L994.2,168.3 L994.5,166.3 L994.9,165.3 L994.6,166.2 L995.3,167.6 L995.6,167.0 L996.1,171.3 L996.7,171.5 L997.1,174.7 L997.7,175.7 L998.3,177.2 L998.2,178.5 L999.0,180.1 L999.2,180.3 L999.1,182.8 L999.4,184.6 L1000.1,186.0 L1000.2,188.6 L1001.0,188.6 L1001.0,192.0 L1001.2,192.3 L1001.9,193.1 L1001.6,194.7 L1002.3,196.7 L1002.8,197.5 L1003.1,199.4 L1003.2,200.6 L1003.4,202.5 L1003.5,203.3 L1004.2,204.3 L1004.4,205.5 L1004.7,208.5 L1005.5,209.6 L1005.6,210.2 L1006.7,212.9 L1006.9,213.6 L1007.0,214.5 L1007.8,217.6 L1007.5,218.4 L1008.8,218.8 L1008.6,220.7 L1009.5,221.9 L1010.2,224.3 L1010.9,226.0 L1011.7,227.7 L1011.4,228.2 L1012.0,229.3 L1012.8,231.4 L1013.5,231.8 L1013.5,234.2 L1014.4,235.5 L1014.9,236.7 L1015.7,238.8 L1016.0,239.6 L1016.5,239.9 L1016.8,243.0 L1017.1,244.5 L1018.1,245.0 L1018.4,247.1 L1019.0,249.2 L1019.3,249.8 L1019.6,251.8 L1020.2,253.5 L1020.1,254.1 L1020.5,256.0 L1020.5,257.9 L1021.0,259.6 L1021.5,260.8 L1022.3,262.3 L1022.2,264.0 L1022.5,263.9 L1022.2,266.9 L1022.9,269.4 L1023.2,270.5 L1023.8,271.9 L1024.1,272.8 L1024.5,273.7 L1025.1,275.2 L1025.2,278.4 L1025.5,278.5 L1026.3,279.9 L1026.2,281.5 L1027.0,283.2 L1027.0,285.3 L1028.1,285.8 L1028.1,287.1 L1028.8,288.4 L1029.0,289.9 L1029.0,291.9 L1030.1,292.6 L1030.0,294.0 C1031.8,296.0 1034.3,295.1 1035.9,296.4 C1037.5,297.7 1038.3,297.3 1039.6,301.1 C1040.8,304.9 1042.3,311.6 1043.4,319.0 C1044.5,326.4 1045.4,334.6 1046.2,345.3 C1047.0,356.0 1047.5,368.9 1048.1,383.0 C1048.7,397.1 1049.5,418.5 1050.0,430.1 C1050.5,441.7 1050.8,452.7 1051.3,452.7 C1051.8,452.7 1052.2,441.7 1052.8,430.1 C1053.4,418.5 1054.1,400.3 1054.7,383.0 C1055.3,365.7 1056.0,341.7 1056.6,326.5 C1057.2,311.3 1057.8,300.4 1058.5,292.0 C1059.2,283.6 1059.4,280.1 1060.5,276.0 C1061.6,271.9 1063.2,268.1 1065.0,267.5 C1066.8,266.9 1069.2,270.5 1071.6,272.3 C1074.0,274.1 1076.7,275.7 1079.2,278.5 C1081.7,281.3 1084.4,284.1 1086.7,289.0 C1089.0,293.9 1091.3,300.8 1093.3,307.7 C1095.3,314.6 1097.2,322.5 1098.9,330.3 C1100.6,338.1 1102.3,346.6 1103.7,354.7 C1105.1,362.8 1106.2,369.8 1107.4,379.2 C1108.7,388.6 1110.1,401.1 1111.2,411.2 C1112.3,421.2 1113.3,431.4 1114.0,439.5 C1114.7,447.6 1115.0,450.5 1115.5,460.0 C1116.0,469.5 1116.4,484.2 1117.0,496.5 C1117.6,508.8 1118.4,521.4 1119.0,534.0 C1119.6,546.6 1120.0,559.3 1120.5,572.0 C1121.0,584.7 1121.5,598.3 1122.0,610.0 C1122.5,621.7 1123.0,631.9 1123.5,642.0 C1124.0,652.1 1124.3,661.3 1125.1,670.8 C1125.9,680.3 1127.1,690.9 1128.1,699.1 C1129.1,707.3 1130.1,714.6 1131.3,719.8 C1132.5,725.0 1133.8,728.3 1135.1,730.2 C1136.4,732.1 1137.5,731.9 1138.9,731.1 C1140.3,730.3 1142.2,726.9 1143.6,725.5 C1145.0,724.1 1146.0,722.1 1147.3,722.6 C1148.5,723.1 1149.8,724.0 1151.1,728.3 C1152.4,732.5 1153.7,740.1 1154.9,748.1 C1156.2,756.1 1157.3,767.9 1158.6,776.3 C1159.8,784.6 1161.1,790.2 1162.4,798.2 C1163.7,806.2 1164.8,816.8 1166.2,824.6 C1167.6,832.5 1169.5,840.3 1170.9,845.3 C1172.3,850.3 1173.4,852.6 1174.7,854.7 C1176.0,856.8 1177.6,857.9 1179.0,858.1 C1180.4,858.3 1181.6,858.2 1183.1,855.7 C1184.6,853.2 1186.3,849.2 1187.8,843.4 C1189.3,837.6 1190.9,828.9 1192.2,820.8 C1193.5,812.6 1194.6,803.0 1195.4,794.5 C1196.2,786.0 1196.6,778.7 1197.2,770.0 C1197.8,761.3 1198.4,754.9 1199.1,742.4 C1199.8,729.9 1200.9,709.4 1201.6,695.3 C1202.3,681.2 1202.9,668.6 1203.5,657.7 C1204.1,646.8 1204.5,642.8 1205.0,630.0 C1205.5,617.2 1206.1,597.2 1206.7,581.2 C1207.3,565.2 1207.9,549.9 1208.5,534.2 C1209.1,518.5 1209.8,501.2 1210.4,487.1 C1211.0,473.0 1211.8,458.5 1212.3,449.4 C1212.8,440.3 1212.7,442.0 1213.4,432.7 C1214.1,423.4 1215.4,403.5 1216.4,393.5 C1217.4,383.5 1218.2,378.9 1219.4,372.6 C1220.7,366.4 1222.3,360.8 1223.9,356.0 C1225.5,351.2 1227.3,347.8 1229.2,344.0 C1231.1,340.2 1233.2,337.2 1235.2,333.4 C1237.2,329.6 1239.6,324.7 1241.2,321.4 C1242.8,318.1 1243.9,315.3 1245.0,313.8 C1246.1,312.3 1247.0,312.1 1248.0,312.3 C1249.0,312.6 1250.1,312.8 1251.0,315.3 C1251.9,317.8 1252.6,322.4 1253.3,327.4 C1254.0,332.4 1254.5,338.7 1255.1,345.5 C1255.6,352.3 1256.1,360.4 1256.6,368.1 C1257.1,375.9 1257.6,385.0 1258.1,392.0 C1258.5,399.0 1258.9,402.1 1259.3,410.1 C1259.7,418.2 1260.1,430.2 1260.5,440.3 C1260.9,450.4 1261.3,460.4 1261.7,470.4 C1262.1,480.4 1262.6,493.1 1262.9,500.5 C1263.2,507.9 1263.4,513.5 1263.8,514.8 C1264.2,516.1 1264.7,513.5 1265.3,508.1 C1265.9,502.7 1266.7,490.2 1267.6,482.4 C1268.5,474.6 1269.5,466.7 1270.6,461.4 C1271.7,456.1 1272.9,453.3 1274.4,450.8 C1275.9,448.3 1277.8,446.1 1279.6,446.3 C1281.3,446.6 1283.1,450.4 1284.9,452.3 C1286.7,454.2 1288.7,457.6 1290.2,457.6 C1291.7,457.6 1292.8,456.2 1294.0,452.3 C1295.2,448.4 1296.5,440.2 1297.7,434.2 C1299.0,428.2 1300.2,421.5 1301.5,416.2 L1301.9,414.6 L1302.8,413.4 L1302.6,412.4 L1303.2,409.8 L1303.4,407.8 L1303.5,407.4 L1304.9,404.2 L1304.4,402.7 L1305.7,402.3 L1306.2,400.5 L1307.1,398.8 L1308.1,397.7 L1309.0,398.0 L1310.4,396.8 L1311.3,396.7 L1312.7,397.5 L1314.3,397.2 L1315.2,397.9 L1316.3,399.4 L1317.6,401.0 L1318.6,403.2 L1319.2,403.2 L1321.1,403.0 L1321.4,404.8 L1322.9,405.2 L1324.0,405.1 L1325.4,404.9 L1326.1,403.2 L1327.9,403.2 L1328.2,404.8 L1329.0,405.7 L1330.0,406.8 L1330.5,408.1 L1330.5,410.1 C1331.9,413.7 1332.9,418.9 1333.9,425.2 C1334.9,431.5 1335.9,439.0 1336.9,447.8 C1337.9,456.6 1339.0,469.1 1339.9,477.9 C1340.8,486.7 1341.5,494.5 1342.2,500.5 C1343.0,506.5 1343.7,512.3 1344.4,514.1 C1345.2,515.9 1346.0,514.6 1346.7,511.1 C1347.5,507.6 1348.0,500.8 1348.9,493.0 C1349.8,485.2 1351.0,472.4 1352.0,464.4 C1353.0,456.4 1354.1,449.2 1355.0,444.8 C1355.9,440.4 1356.5,438.5 1357.2,438.0 C1358.0,437.5 1358.7,440.7 1359.5,441.8 C1360.3,442.9 1361.0,442.1 1361.8,444.8 C1362.5,447.6 1363.2,451.5 1364.0,458.3 C1364.8,465.1 1365.6,476.4 1366.3,485.5 C1367.0,494.6 1367.5,503.5 1368.1,512.6 C1368.6,521.7 1369.2,530.5 1369.6,540.0 C1370.0,549.5 1370.1,561.3 1370.6,569.6 C1371.1,577.9 1371.9,588.1 1372.5,589.7 C1373.1,591.3 1373.6,582.2 1374.3,579.1 C1375.0,576.0 1375.8,571.4 1376.6,571.4 C1377.4,571.4 1378.3,574.5 1379.0,579.1 C1379.7,583.7 1380.2,591.9 1380.8,599.2 C1381.4,606.5 1381.9,614.9 1382.5,622.8 C1383.1,630.7 1383.5,637.1 1384.3,646.5 C1385.1,655.9 1386.3,669.2 1387.3,679.4 C1388.3,689.6 1389.6,700.2 1390.5,707.8 C1391.4,715.4 1392.0,724.7 1392.8,725.2 C1393.6,725.7 1394.5,718.6 1395.2,711.0 C1395.9,703.4 1396.3,689.6 1396.8,679.4 C1397.3,669.2 1397.7,657.5 1398.0,650.0 C1398.3,642.5 1398.2,643.2 1398.5,634.7 C1398.8,626.2 1399.3,609.1 1399.7,599.2 C1400.1,589.3 1400.4,581.4 1400.9,575.5 C1401.4,569.6 1402.0,568.8 1402.7,563.7 C1403.4,558.6 1404.3,545.4 1405.0,545.0 C1405.7,544.6 1406.3,553.8 1406.8,561.3 C1407.3,568.8 1407.6,587.7 1408.0,590.0 C1408.4,592.3 1408.6,573.3 1409.0,575.0 C1409.4,576.7 1409.8,594.8 1410.2,600.0 C1410.6,605.2 1411.1,608.8 1411.5,606.3 C1411.9,603.8 1412.4,584.0 1412.8,585.0 C1413.2,586.0 1413.6,610.3 1414.0,612.0 C1414.4,613.7 1414.8,594.2 1415.2,595.0 C1415.6,595.8 1416.0,616.1 1416.3,616.9 C1416.6,617.7 1416.9,604.9 1417.2,600.0 C1417.5,595.1 1417.7,584.0 1418.0,587.3 C1418.3,590.6 1418.8,633.2 1419.2,620.0 C1419.6,606.8 1420.0,526.7 1420.2,508.0"/></g>
<g fill="none" stroke="#33AB68" stroke-width="4.4" stroke-linejoin="round" stroke-linecap="butt" clip-path="url(#plotclip)"><path d="M155.7,211.0 C155.8,210.7 156.1,207.8 156.4,209.2 C156.7,210.6 157.2,218.7 157.7,219.5 C158.2,220.3 158.9,215.5 159.5,214.0 C160.1,212.5 160.8,208.5 161.5,210.5 C162.2,212.5 162.9,225.3 163.5,225.9 C164.1,226.5 164.5,217.5 165.0,214.0 C165.5,210.5 166.0,204.4 166.4,204.7 C166.8,205.0 167.1,212.2 167.5,216.0 C167.9,219.8 168.2,227.0 168.6,227.2 C169.0,227.4 169.7,219.8 170.2,217.0 C170.7,214.2 171.3,210.0 171.8,210.5 C172.3,211.0 172.8,217.1 173.2,220.0 C173.6,222.9 173.8,228.0 174.4,227.8 C175.0,227.6 175.8,221.4 176.5,219.0 C177.2,216.6 178.2,212.3 178.8,213.1 C179.4,213.9 179.8,220.7 180.2,224.0 C180.6,227.3 180.8,232.7 181.4,232.9 C182.0,233.1 182.8,227.2 183.6,225.0 C184.3,222.8 185.3,219.0 185.9,219.5 C186.5,220.0 186.8,225.6 187.2,228.0 C187.6,230.4 187.9,233.7 188.5,234.2 C189.1,234.7 189.9,230.9 190.5,231.0 C191.1,231.1 191.6,233.5 192.3,234.9 C193.0,236.3 193.9,239.0 194.9,239.4 C195.9,239.8 197.2,236.2 198.1,237.4 C199.0,238.6 199.9,246.3 200.6,246.4 C201.3,246.5 201.8,240.3 202.4,238.0 C203.0,235.7 203.6,231.5 204.1,232.3 C204.6,233.1 204.9,239.8 205.3,243.0 C205.7,246.2 206.0,251.2 206.4,251.5 C206.8,251.8 207.4,246.8 207.8,245.0 C208.2,243.2 208.5,238.7 209.0,240.6 C209.5,242.5 210.4,254.6 210.9,256.7 C211.4,258.8 211.8,253.0 212.2,253.0 C212.6,253.0 213.1,253.7 213.5,256.7 C213.9,259.7 214.2,269.2 214.7,270.8 C215.2,272.4 215.8,267.2 216.3,266.0 C216.8,264.8 217.3,261.4 217.9,263.7 C218.5,266.0 219.4,275.6 219.9,279.7 C220.4,283.8 220.8,285.0 221.2,288.0 C221.6,291.0 221.9,296.5 222.4,297.7 C222.9,298.9 223.5,295.2 224.0,295.0 C224.5,294.8 225.1,293.2 225.6,296.4 C226.1,299.6 226.2,307.7 226.8,314.0 C227.4,320.3 228.2,325.7 229.3,334.1 C230.4,342.5 231.8,351.6 233.1,364.2 C234.3,376.8 235.6,396.0 236.8,409.4 L236.9,411.6 L237.1,413.2 L237.2,415.2 L237.8,417.4 L238.0,419.3 L238.0,421.1 L237.7,423.2 L238.4,424.9 L238.1,425.7 L238.5,428.0 L239.0,430.0 L239.2,431.4 L239.3,433.6 L239.3,435.9 L239.8,437.3 L239.7,438.0 L240.0,439.9 L240.4,441.6 L240.3,442.6 L240.5,445.1 L240.7,446.8 L241.2,448.0 L241.4,451.2 L241.2,452.4 L241.9,453.9 L242.3,456.0 L242.1,458.2 L242.8,459.9 L243.3,461.3 L243.3,462.2 L243.6,464.2 L243.7,465.6 L243.9,467.7 L244.7,468.8 L244.4,471.6 L245.4,473.6 L244.9,474.0 L245.8,476.7 L245.8,479.3 L246.6,480.8 L246.8,482.8 L247.5,484.7 L247.6,486.5 L247.5,488.6 L248.4,490.0 L248.2,491.2 L249.2,492.3 L249.4,495.3 L249.6,497.4 L250.5,498.4 L250.9,500.6 L251.4,502.6 L251.7,503.6 L252.6,505.5 L252.7,507.6 L253.8,508.6 L253.7,510.3 L254.5,511.8 L255.4,513.0 L256.0,514.3 L256.3,517.1 L257.5,519.0 L258.2,520.5 L259.0,522.4 L259.8,523.9 L260.8,525.3 L261.7,527.2 L262.8,528.6 L263.1,529.8 L264.1,532.1 L265.0,533.5 L266.4,533.7 L266.7,536.5 L268.0,538.0 L268.7,539.7 L269.8,540.7 L271.2,542.7 L271.5,544.0 L272.5,545.6 L272.9,546.9 L274.7,548.2 L275.4,550.7 L276.6,552.5 L277.0,553.3 L278.2,555.3 L279.5,555.4 L280.4,557.5 L281.3,559.0 L282.1,561.7 L283.0,562.9 L284.1,564.5 L284.8,566.8 L286.0,567.9 L287.1,568.9 L287.3,570.8 L287.8,572.8 L288.5,574.3 L288.7,575.0 L289.9,576.9 L290.2,578.3 L291.4,581.0 L292.1,581.9 L292.5,583.5 L293.5,586.3 C296.2,591.5 300.0,598.7 303.4,603.2 C306.8,607.7 310.5,611.0 313.4,612.7 C316.3,614.4 318.5,614.4 321.0,613.2 C323.5,612.0 325.6,609.9 328.5,605.7 C331.4,601.5 335.3,594.4 338.5,588.1 C341.7,581.8 344.9,573.1 347.8,568.0 C350.7,562.9 353.6,559.8 356.1,557.6 C358.7,555.4 360.6,554.8 363.1,555.0 C365.6,555.2 368.6,556.7 371.2,558.8 C373.8,560.9 376.0,564.2 378.5,567.8 C381.0,571.4 383.0,576.2 386.2,580.6 C389.4,585.0 393.5,591.1 397.5,594.4 C401.5,597.7 406.1,600.3 410.1,600.6 C414.1,600.9 418.3,597.8 421.4,596.1 C424.5,594.4 426.8,593.2 428.9,590.6 C431.0,588.0 432.7,584.4 434.0,580.6 C435.3,576.8 435.2,574.8 436.5,568.0 C437.8,561.2 439.6,550.1 441.5,540.0 C443.4,529.9 445.7,516.9 447.8,507.3 C449.9,497.7 451.9,488.5 454.0,482.2 C456.1,475.9 458.0,473.0 460.3,469.7 C462.6,466.4 465.6,467.1 467.9,462.1 C470.2,457.1 471.8,448.7 474.1,439.5 C476.4,430.3 479.2,417.3 481.7,406.9 C484.2,396.4 486.7,385.6 489.2,376.8 C491.7,368.0 494.2,361.0 496.7,354.2 C499.2,347.4 501.3,341.5 504.0,336.0 C506.7,330.5 509.7,325.2 512.8,321.0 C515.9,316.8 519.4,314.2 522.8,310.9 C526.1,307.5 529.3,305.1 532.9,300.9 C536.5,296.7 540.4,290.8 544.2,285.8 C548.0,280.8 552.0,275.7 555.5,270.7 C559.0,265.7 562.2,259.9 565.5,255.7 C568.8,251.5 571.7,248.5 575.5,245.6 C579.3,242.7 583.5,240.3 588.1,238.1 C592.7,235.9 598.6,233.8 603.2,232.6 C607.8,231.3 611.1,230.8 615.7,230.6 C620.3,230.3 625.8,230.6 630.8,231.1 C635.8,231.6 640.9,232.5 645.9,233.6 C650.9,234.7 655.9,236.5 660.9,237.6 C665.9,238.7 671.0,239.6 676.0,239.9 C681.0,240.2 687.2,238.8 691.0,239.4 C694.8,240.0 696.6,243.0 698.6,243.6 C700.6,244.2 701.9,244.0 703.1,243.1 C704.4,242.2 705.1,237.9 706.1,238.1 C707.1,238.3 707.4,243.8 709.1,244.4 C710.8,245.0 712.5,241.9 716.2,241.9 C719.9,241.9 726.2,243.4 731.2,244.4 C736.2,245.4 740.4,246.4 746.3,248.1 C752.2,249.8 759.7,252.1 766.4,254.4 C773.1,256.7 780.6,259.8 786.5,262.0 C792.4,264.2 795.6,265.6 801.5,267.5 C807.4,269.4 815.2,271.8 821.6,273.3 C828.0,274.8 833.8,275.6 840.0,276.5 L841.6,277.4 L843.8,276.9 L845.1,277.8 L847.3,277.2 L849.3,277.9 L851.4,277.5 L853.1,278.7 L854.9,278.3 L856.0,278.9 L857.6,278.8 L859.1,278.8 L860.9,279.2 L862.2,280.0 L864.6,280.2 L865.8,281.2 L867.3,282.0 L868.9,282.6 L870.9,283.5 L872.3,284.0 L873.9,284.0 L875.6,285.7 L877.5,286.0 L879.3,286.8 L880.7,287.8 L883.2,288.6 L884.3,290.2 L885.7,289.3 L887.2,291.9 L888.5,291.5 L891.2,293.2 L892.4,293.7 L894.1,292.8 L895.1,293.6 L897.7,294.1 L898.7,294.3 L900.2,295.2 L902.1,295.9 L903.3,296.2 L905.7,294.9 L907.9,296.6 L908.5,296.6 L911.1,297.4 L913.1,298.8 L914.7,298.9 L916.7,299.6 L918.0,297.9 L919.8,300.8 L920.9,299.7 L923.7,299.0 L925.1,302.3 L926.6,301.1 L929.5,300.6 L930.7,301.4 L931.6,300.8 L933.3,301.7 L935.0,301.9 L935.5,303.1 L936.7,304.5 L937.3,305.2 L939.1,307.3 L939.4,307.3 L939.8,310.2 L940.3,312.0 L940.1,313.9 L939.9,315.9 L940.9,316.7 L942.2,319.3 L943.0,319.1 L944.6,321.6 L944.7,322.4 L945.6,324.9 L945.1,325.7 L945.9,328.7 L946.2,330.6 L945.8,332.3 L945.7,333.6 L946.5,335.7 L946.8,337.4 L947.6,339.2 L948.2,340.6 L948.5,342.5 L949.2,343.6 L949.5,345.5 L950.1,347.1 L950.6,348.7 L951.1,349.7 L951.7,352.7 L952.2,354.3 L952.6,356.6 L952.3,358.4 L952.6,360.1 L952.8,360.2 L952.9,363.7 L953.2,364.1 L953.3,366.7 L953.7,368.3 L954.1,370.4 L953.9,372.2 L954.4,374.3 L954.4,375.2 L954.3,377.9 L954.5,379.9 L954.8,381.6 L954.9,384.1 L955.4,384.7 L955.3,387.7 L955.5,388.6 L956.0,390.0 L955.8,391.9 L956.4,394.0 L956.7,395.3 L957.0,397.3 L957.1,398.9 L957.3,400.9 L957.3,402.1 L957.8,403.5 L958.0,405.0 L958.2,407.9 L958.7,409.4 L958.8,410.5 L959.5,413.2 L959.6,414.5 L959.6,415.9 L960.0,419.1 L959.7,420.5 L960.5,421.6 L960.2,423.8 L960.7,425.5 L961.1,428.0 L961.5,429.9 L962.0,431.8 L961.6,432.6 L961.9,433.8 L962.4,435.7 C963.7,442.3 965.0,447.6 966.2,448.9 C967.5,450.2 968.8,448.0 969.9,443.3 C971.0,438.6 971.8,429.2 972.8,420.7 C973.8,412.2 974.5,403.4 975.6,392.4 C976.7,381.4 978.1,366.3 979.4,354.7 C980.6,343.1 981.9,331.8 983.1,322.7 C984.4,313.6 985.6,306.7 986.9,300.1 C988.2,293.5 989.6,286.6 990.7,283.2 C991.8,279.8 992.7,281.8 993.5,279.5 C994.3,277.2 994.8,269.4 995.4,269.7 C996.0,269.9 996.5,278.0 997.3,281.0 C998.1,284.0 999.0,283.9 1000.1,287.7 L1000.6,288.3 L1000.5,290.6 L1001.2,292.1 L1001.6,293.7 L1002.2,296.2 L1002.4,297.6 L1002.8,298.6 L1003.1,302.0 L1003.4,304.0 L1004.2,304.8 L1004.5,307.1 L1005.1,309.2 L1005.4,310.3 L1005.8,312.4 L1006.4,314.4 L1006.5,315.3 L1007.0,317.4 L1007.3,319.4 L1007.9,321.2 L1008.6,322.5 L1009.7,324.3 L1010.0,326.3 L1010.6,326.6 L1010.8,329.5 L1011.8,332.1 L1012.4,333.1 L1013.2,334.6 L1013.7,335.8 L1014.3,337.3 L1014.9,338.8 L1015.1,341.9 L1015.4,342.5 L1016.1,344.2 L1016.0,346.0 L1016.8,347.9 L1016.8,350.2 L1017.8,351.1 L1017.8,352.7 L1018.5,354.4 L1018.7,356.4 L1018.7,358.9 L1019.6,360.1 L1019.4,362.2 L1019.9,363.7 L1020.6,365.8 L1020.4,368.2 L1020.9,369.2 L1021.1,370.6 L1021.1,373.3 L1022.3,373.6 L1021.9,375.2 L1022.9,377.6 L1022.9,379.4 L1023.2,380.8 L1023.6,382.3 L1023.9,385.0 L1024.4,386.5 L1024.5,388.4 L1024.9,390.9 L1025.6,391.8 L1025.7,393.2 L1025.9,395.1 L1026.6,397.3 L1027.0,399.8 L1027.0,400.4 L1028.3,401.2 L1027.8,404.0 L1028.3,405.8 L1028.6,407.6 L1029.0,409.6 L1028.9,410.6 L1029.8,412.4 L1029.9,415.1 L1030.4,417.0 L1031.1,418.7 L1031.4,420.3 L1031.3,422.1 L1032.1,423.5 L1032.3,425.7 L1032.5,427.2 L1033.5,427.9 L1033.7,430.6 L1034.6,432.7 L1035.0,433.8 L1035.3,435.6 L1035.4,437.9 L1036.7,438.1 L1037.2,440.5 L1037.7,442.3 L1037.8,443.6 L1039.2,445.0 L1039.2,446.3 L1039.7,448.9 L1041.0,450.8 L1041.1,453.6 C1042.1,457.7 1042.5,464.6 1043.0,470.0 C1043.5,475.4 1043.5,475.2 1044.3,485.0 C1045.0,494.8 1046.6,514.0 1047.5,528.5 C1048.4,543.0 1049.2,558.3 1049.7,571.9 C1050.2,585.5 1050.5,603.1 1050.8,610.0 C1051.1,616.9 1051.2,616.0 1051.4,613.3 C1051.6,610.5 1051.7,604.0 1052.1,593.5 C1052.5,583.0 1053.1,564.5 1054.0,550.0 C1054.9,535.5 1056.4,521.2 1057.3,506.8 C1058.2,492.4 1058.9,476.8 1059.4,463.4 C1059.9,450.0 1059.8,436.6 1060.4,426.3 C1061.0,416.0 1062.1,408.7 1063.2,401.8 C1064.3,394.9 1065.5,389.1 1066.9,384.9 C1068.3,380.7 1070.0,378.3 1071.6,376.4 C1073.2,374.4 1074.7,372.7 1076.3,373.2 C1077.9,373.7 1079.4,376.3 1081.1,379.2 C1082.8,382.1 1084.8,385.8 1086.7,390.5 C1088.6,395.2 1090.5,400.9 1092.4,407.5 C1094.3,414.1 1096.6,423.5 1098.0,430.1 C1099.4,436.7 1100.0,442.2 1101.0,447.0 C1102.0,451.8 1102.9,453.1 1104.0,458.8 C1105.1,464.5 1106.6,472.0 1107.8,481.4 C1109.0,490.8 1110.2,503.4 1111.2,515.3 C1112.2,527.2 1113.0,540.4 1113.8,553.0 C1114.5,565.6 1115.1,579.5 1115.7,590.7 C1116.3,601.9 1116.6,610.4 1117.2,620.0 C1117.8,629.6 1118.4,637.2 1119.1,648.2 C1119.8,659.2 1120.6,673.3 1121.4,685.9 C1122.2,698.5 1123.0,712.6 1123.8,723.6 C1124.6,734.6 1125.3,743.0 1126.3,751.8 C1127.2,760.6 1128.3,769.9 1129.5,776.3 C1130.7,782.7 1131.8,786.9 1133.2,790.4 C1134.6,793.9 1136.2,795.3 1137.9,797.0 C1139.6,798.7 1141.9,799.3 1143.6,800.8 C1145.3,802.3 1146.7,802.7 1148.3,806.0 C1149.9,809.3 1151.4,815.2 1153.0,820.8 C1154.6,826.4 1156.1,834.1 1157.7,839.7 C1159.3,845.4 1160.7,850.3 1162.4,854.7 C1164.1,859.1 1166.2,863.2 1168.1,866.0 C1170.0,868.8 1172.0,870.2 1173.7,871.3 C1175.4,872.4 1176.7,872.7 1178.4,872.6 C1180.1,872.5 1182.2,872.5 1184.1,870.8 C1186.0,869.1 1188.0,866.5 1189.7,862.3 C1191.4,858.0 1193.0,852.8 1194.4,845.3 C1195.8,837.8 1197.2,826.3 1198.2,817.1 C1199.2,807.9 1199.9,797.7 1200.5,790.0 C1201.1,782.3 1201.3,783.3 1202.0,770.7 C1202.7,758.1 1204.0,731.5 1204.8,714.2 C1205.6,696.9 1206.1,682.0 1206.7,667.1 C1207.3,652.2 1207.9,637.7 1208.5,625.0 C1209.1,612.3 1209.8,602.7 1210.4,590.7 C1211.0,578.7 1211.7,564.8 1212.3,553.0 C1212.9,541.2 1213.7,528.0 1214.3,520.0 C1214.9,512.0 1215.3,510.5 1216.0,505.0 C1216.7,499.5 1217.3,492.1 1218.3,487.0 C1219.3,481.9 1220.3,478.1 1222.0,474.5 C1223.7,470.9 1226.4,468.9 1228.7,465.4 C1231.0,461.9 1233.9,458.0 1236.0,453.5 C1238.1,449.0 1239.6,443.5 1241.2,438.5 C1242.8,433.5 1244.2,427.2 1245.7,423.7 C1247.2,420.2 1249.0,417.1 1250.3,417.4 C1251.6,417.6 1252.4,420.1 1253.3,425.2 C1254.2,430.3 1254.9,439.0 1255.5,447.8 C1256.1,456.6 1256.5,467.9 1257.0,477.9 C1257.5,487.9 1258.0,498.0 1258.5,508.0 C1259.0,518.0 1259.5,528.0 1260.1,538.0 C1260.7,548.0 1261.4,561.8 1262.0,568.2 C1262.6,574.6 1263.2,576.5 1263.8,576.5 C1264.3,576.5 1264.7,572.3 1265.3,568.2 C1265.9,564.1 1266.6,556.0 1267.6,552.0 C1268.6,548.0 1270.1,546.4 1271.5,544.0 C1272.9,541.6 1274.4,539.1 1275.9,537.6 C1277.4,536.1 1279.0,534.8 1280.6,534.9 C1282.2,535.0 1283.8,536.4 1285.3,538.3 C1286.8,540.1 1288.2,544.4 1289.4,546.0 C1290.7,547.6 1291.6,548.2 1292.8,547.8 C1294.0,547.4 1295.3,546.1 1296.5,543.5 C1297.7,540.9 1298.7,536.8 1299.9,532.2 C1301.1,527.6 1302.6,520.5 1303.5,516.0 C1304.4,511.5 1304.4,507.9 1305.3,505.0 C1306.2,502.1 1307.8,499.8 1309.0,498.3 C1310.2,496.8 1311.6,496.6 1312.8,496.0 C1314.0,495.4 1315.3,493.8 1316.3,494.5 C1317.3,495.2 1317.9,499.5 1318.8,500.5 C1319.7,501.5 1320.8,500.6 1321.8,500.5 C1322.8,500.4 1323.8,499.3 1324.8,499.8 C1325.8,500.3 1326.9,501.4 1327.9,503.5 C1328.9,505.6 1330.0,509.3 1330.9,512.6 C1331.8,515.9 1332.5,519.4 1333.1,523.1 C1333.7,526.9 1333.8,529.8 1334.6,535.1 C1335.3,540.4 1336.6,547.9 1337.6,554.7 C1338.6,561.5 1339.8,570.4 1340.7,575.7 C1341.6,581.0 1342.2,584.0 1342.9,586.3 C1343.7,588.6 1344.5,589.8 1345.2,589.3 C1346.0,588.8 1346.7,587.3 1347.4,583.3 C1348.2,579.3 1348.9,571.5 1349.7,565.2 C1350.5,558.9 1351.2,549.5 1352.0,545.6 C1352.8,541.7 1353.5,543.5 1354.2,541.8 C1355.0,540.0 1355.8,537.1 1356.5,535.1 C1357.2,533.1 1358.0,530.0 1358.7,529.8 C1359.5,529.5 1360.2,531.0 1361.0,533.6 C1361.8,536.2 1362.5,539.6 1363.3,545.6 C1364.0,551.6 1364.8,560.2 1365.5,569.7 C1366.2,579.2 1367.0,592.4 1367.8,602.9 C1368.5,613.4 1369.2,625.3 1370.0,633.0 C1370.8,640.7 1371.2,645.6 1372.3,649.0 C1373.3,652.4 1375.1,649.6 1376.3,653.4 C1377.5,657.1 1378.4,663.2 1379.4,671.5 C1380.5,679.8 1381.5,692.6 1382.6,703.1 C1383.6,713.6 1384.7,724.1 1385.7,734.6 C1386.8,745.1 1387.9,757.5 1388.9,766.2 C1389.9,774.9 1390.9,784.9 1391.8,787.0 C1392.7,789.1 1393.6,784.9 1394.4,778.8 C1395.2,772.7 1396.1,760.4 1396.8,750.4 C1397.5,740.4 1398.0,728.9 1398.7,718.9 C1399.4,708.9 1400.1,698.4 1400.7,690.5 C1401.3,682.6 1401.6,672.0 1402.3,671.5 C1403.0,671.0 1403.9,684.4 1404.7,687.3 C1405.5,690.2 1406.3,692.3 1407.0,688.9 C1407.7,685.5 1408.1,668.9 1408.6,666.8 C1409.1,664.7 1409.5,673.7 1410.2,676.3 C1410.9,678.9 1411.8,682.1 1412.6,682.6 C1413.4,683.1 1414.2,683.9 1414.9,679.4 C1415.6,674.9 1416.0,658.7 1416.5,655.8 C1417.0,652.9 1417.5,661.9 1418.1,662.1 C1418.7,662.3 1419.6,663.4 1419.9,657.0 C1420.2,650.6 1420.0,629.5 1420.0,624.0"/></g>
<line x1="316.0" y1="80.3" x2="313.7" y2="879.6" stroke="#000" stroke-width="4" stroke-dasharray="20 17.73"/>
<line x1="419.8" y1="80.3" x2="417.4" y2="879.6" stroke="#000" stroke-width="4" stroke-dasharray="20 17.73"/>
<line x1="967.0" y1="82.4" x2="965.1" y2="880.6" stroke="#000" stroke-width="4" stroke-dasharray="20 17.73"/>
<line x1="1050.6" y1="123.0" x2="1050.5" y2="879" stroke="#000" stroke-width="4" stroke-dasharray="20 17.73"/>
<line x1="1137.3" y1="79.0" x2="1135.5" y2="877" stroke="#000" stroke-width="4" stroke-dasharray="20 17.73"/>
<line x1="1179.3" y1="79.0" x2="1177.5" y2="877" stroke="#000" stroke-width="4" stroke-dasharray="20 17.73"/>
<line x1="1271.8" y1="258.2" x2="1265.1" y2="877" stroke="#000" stroke-width="4" stroke-dasharray="20 17.73"/>
<line x1="1347.2" y1="258.2" x2="1340.8" y2="877" stroke="#000" stroke-width="4" stroke-dasharray="20 17.73"/>
<line x1="1393.6" y1="335.9" x2="1391.3" y2="878.6" stroke="#000" stroke-width="4" stroke-dasharray="20 17.73"/>
<g stroke="#000" stroke-width="3" fill="none">
<line x1="155.7" y1="74.8" x2="155.7" y2="877.5"/>
<line x1="137.7" y1="876.0" x2="1421.8" y2="876.0"/>
<line x1="146.7" y1="803.3" x2="155.7" y2="803.3"/>
<line x1="137.7" y1="730.6" x2="155.7" y2="730.6"/>
<line x1="146.7" y1="657.9" x2="155.7" y2="657.9"/>
<line x1="137.7" y1="585.2" x2="155.7" y2="585.2"/>
<line x1="146.7" y1="512.5" x2="155.7" y2="512.5"/>
<line x1="137.7" y1="439.8" x2="155.7" y2="439.8"/>
<line x1="146.7" y1="367.1" x2="155.7" y2="367.1"/>
<line x1="137.7" y1="294.4" x2="155.7" y2="294.4"/>
<line x1="146.7" y1="221.7" x2="155.7" y2="221.7"/>
<line x1="137.7" y1="149.0" x2="155.7" y2="149.0"/>
<line x1="146.7" y1="76.3" x2="155.7" y2="76.3"/>
<line x1="202.2" y1="876.0" x2="202.2" y2="884.0"/>
<line x1="292.6" y1="876.0" x2="292.6" y2="891.0"/>
<line x1="383.0" y1="876.0" x2="383.0" y2="884.0"/>
<line x1="473.4" y1="876.0" x2="473.4" y2="891.0"/>
<line x1="563.7" y1="876.0" x2="563.7" y2="884.0"/>
<line x1="654.1" y1="876.0" x2="654.1" y2="891.0"/>
<line x1="744.5" y1="876.0" x2="744.5" y2="884.0"/>
<line x1="834.9" y1="876.0" x2="834.9" y2="891.0"/>
<line x1="925.2" y1="876.0" x2="925.2" y2="884.0"/>
<line x1="1015.6" y1="876.0" x2="1015.6" y2="891.0"/>
<line x1="1106.0" y1="876.0" x2="1106.0" y2="884.0"/>
<line x1="1196.3" y1="876.0" x2="1196.3" y2="891.0"/>
<line x1="1286.7" y1="876.0" x2="1286.7" y2="884.0"/>
<line x1="1377.1" y1="876.0" x2="1377.1" y2="891.0"/>
</g>
<text x="293.1" y="928" font-size="35.4" text-anchor="middle" textLength="78" lengthAdjust="spacingAndGlyphs">3500</text>
<text x="473.9" y="928" font-size="35.4" text-anchor="middle" textLength="78" lengthAdjust="spacingAndGlyphs">3000</text>
<text x="654.6" y="928" font-size="35.4" text-anchor="middle" textLength="78" lengthAdjust="spacingAndGlyphs">2500</text>
<text x="835.4" y="928" font-size="35.4" text-anchor="middle" textLength="78" lengthAdjust="spacingAndGlyphs">2000</text>
<text x="1016.1" y="928" font-size="35.4" text-anchor="middle" textLength="78" lengthAdjust="spacingAndGlyphs">1500</text>
<text x="1196.8" y="928" font-size="35.4" text-anchor="middle" textLength="78" lengthAdjust="spacingAndGlyphs">1000</text>
<text x="1377.6" y="928" font-size="35.4" text-anchor="middle" textLength="58.5" lengthAdjust="spacingAndGlyphs">500</text>
<text x="124.1" y="885.7" font-size="35.5" text-anchor="end" textLength="17" lengthAdjust="spacingAndGlyphs">0</text>
<text x="120.7" y="740.3" font-size="35.5" text-anchor="end" textLength="34" lengthAdjust="spacingAndGlyphs">20</text>
<text x="120.7" y="594.9" font-size="35.5" text-anchor="end" textLength="34" lengthAdjust="spacingAndGlyphs">40</text>
<text x="120.7" y="449.5" font-size="35.5" text-anchor="end" textLength="34" lengthAdjust="spacingAndGlyphs">60</text>
<text x="120.7" y="304.1" font-size="35.5" text-anchor="end" textLength="34" lengthAdjust="spacingAndGlyphs">80</text>
<text x="118.2" y="158.7" font-size="35.5" text-anchor="end" textLength="51" lengthAdjust="spacingAndGlyphs">100</text>
<text x="617" y="1000.7" font-size="41">Wavenumber (cm<tspan font-size="25.5" dx="12.6" dy="-15.3">-1</tspan><tspan dx="5.4" dy="15.3">)</tspan></text>
<text transform="translate(39.6,654.6) rotate(-90)" font-size="48">Transmittance (%)</text>
<text x="295.2" y="64.8" font-size="29" textLength="127.5" lengthAdjust="spacingAndGlyphs">OH stretch</text>
<text x="880.8" y="63.5" font-size="29" textLength="105.5" lengthAdjust="spacingAndGlyphs">OH bend</text>
<text x="993.5" y="102.7" font-size="29" textLength="105.5" lengthAdjust="spacingAndGlyphs">NH bend</text>
<text x="1082.6" y="59.8" font-size="29" textLength="275.8" lengthAdjust="spacingAndGlyphs">T-O asymmetric stretch</text>
<text x="1200.3" y="240.6" font-size="29" textLength="264" lengthAdjust="spacingAndGlyphs">T-O symmetric stretch</text>
<text x="1372.8" y="314.6" font-size="29" textLength="112" lengthAdjust="spacingAndGlyphs">T-O bend</text>
<line x1="1430.2" y1="16.8" x2="1517.4" y2="16.8" stroke="#4F4F4F" stroke-width="4" stroke-linecap="round"/>
<text x="1526.5" y="27.6" font-size="32">USY</text>
<line x1="1430.2" y1="58.5" x2="1517.4" y2="58.5" stroke="#F03A3A" stroke-width="4" stroke-linecap="round"/>
<text x="1526.5" y="69.3" font-size="32">Ap</text>
<line x1="1430.2" y1="100.2" x2="1517.4" y2="100.2" stroke="#1669DD" stroke-width="4" stroke-linecap="round"/>
<text x="1526.5" y="111.0" font-size="32">Bp</text>
<line x1="1430.2" y1="141.9" x2="1517.4" y2="141.9" stroke="#33AB68" stroke-width="4" stroke-linecap="round"/>
<text x="1526.5" y="152.7" font-size="32">Cp</text>
</svg>
</body></html>
